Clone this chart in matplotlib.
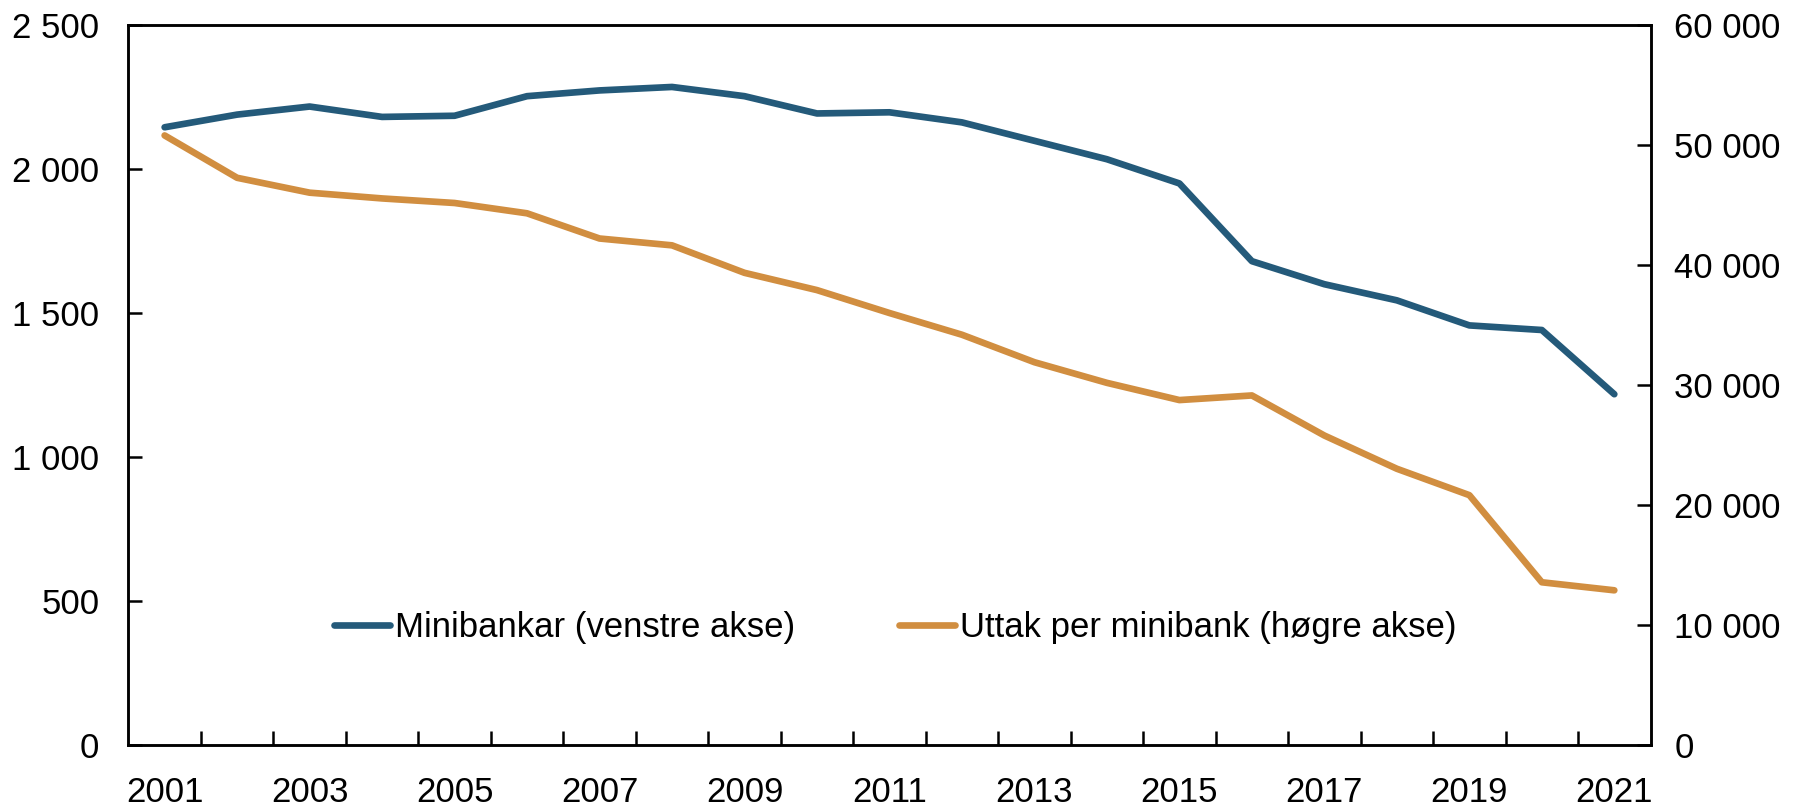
import matplotlib
matplotlib.use("Agg")
import matplotlib.pyplot as plt
import numpy as np
from matplotlib.ticker import FuncFormatter, FixedLocator

plt.rcParams["font.family"] = ["Liberation Sans", "DejaVu Sans"]

# Data.
years = list(range(2001, 2022))
minibankar = [2145, 2189, 2217, 2181, 2185, 2253, 2273, 2285, 2253, 2193, 2197,
              2162, 2098, 2034, 1950, 1680, 1600, 1544, 1457, 1441, 1218]
uttak = [50800, 47270, 46030, 45550, 45170, 44310, 42210, 41640, 39350, 37910,
         36000, 34190, 31900, 30180, 28745, 29130, 25790, 23020, 20820, 13560,
         12890]
labels = ["Minibankar (venstre akse)", "Uttak per minibank (høgre akse)"]

blue = "#245A7A"
orange = "#D18E40"
fs = 25


def space_thousands(v, pos):
    return f"{v:,.0f}".replace(",", " ")


fig = plt.figure(figsize=(17.98, 8.08), dpi=100)
ax = fig.add_axes([0.0714, 0.078, 0.8466, 0.891])
ax2 = ax.twinx()

x = np.arange(len(years))
l1, = ax.plot(x, minibankar, color=blue, lw=4.8, solid_capstyle="round")
l2, = ax2.plot(x, uttak, color=orange, lw=4.8, solid_capstyle="round")

ax.set_xlim(-0.5, len(years) - 0.5)
ax.set_ylim(0, 2500)
ax2.set_ylim(0, 60000)
ax.set_yticks(np.arange(0, 2501, 500))
ax2.set_yticks(np.arange(0, 60001, 10000))
ax.yaxis.set_major_formatter(FuncFormatter(space_thousands))
ax2.yaxis.set_major_formatter(FuncFormatter(space_thousands))

# Tick marks between categories, labels on every second year.
ax.xaxis.set_major_locator(FixedLocator(np.arange(0.5, len(years) - 1, 1)))
ax.xaxis.set_minor_locator(FixedLocator(x[::2]))
ax.set_xticklabels([], minor=False)
ax.set_xticklabels([str(y) for y in years[::2]], minor=True)
ax.tick_params(axis="x", which="major", direction="in", length=10, width=1.8)
ax.tick_params(axis="x", which="minor", length=0, pad=22, labelsize=fs)
ax.tick_params(axis="y", direction="in", length=10, width=1.8, pad=21,
               labelsize=fs)
ax2.tick_params(axis="y", direction="in", length=10, width=1.8, pad=17,
                labelsize=fs)

for a in (ax, ax2):
    for s in a.spines.values():
        s.set_linewidth(1.8)

fig.legend([l1, l2], labels, loc="center", bbox_to_anchor=(0.498, 0.223),
           ncol=2, frameon=False, fontsize=fs, handlelength=1.6,
           handletextpad=0.15, columnspacing=3.0)

plt.savefig("out.png", dpi=100)
plt.close()
